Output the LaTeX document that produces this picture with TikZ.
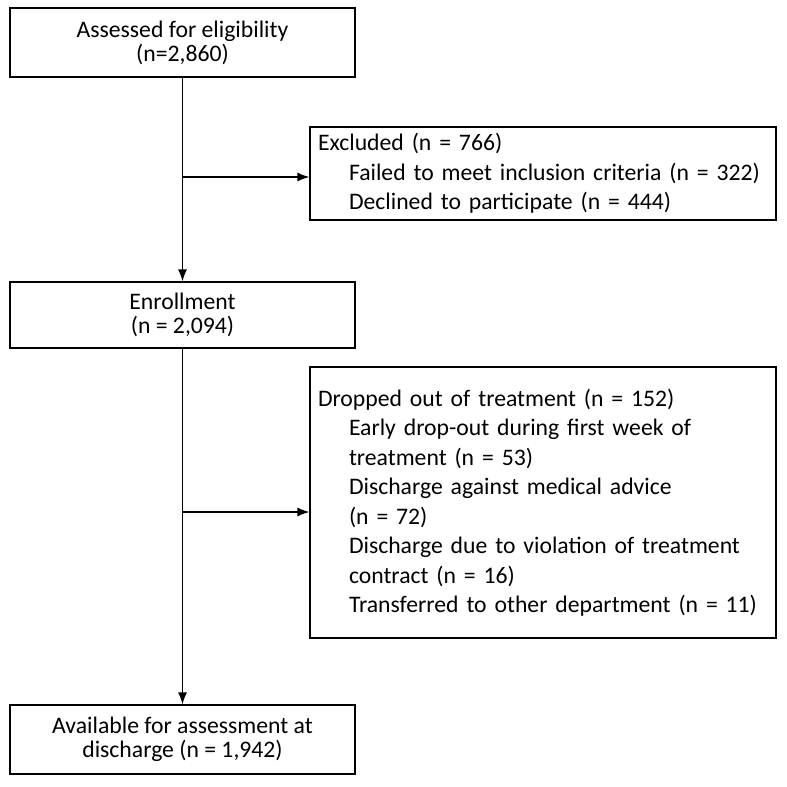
\documentclass[tikz,border=0pt]{standalone}
\usepackage{fontspec}
\setmainfont{Carlito}
\usetikzlibrary{arrows.meta,positioning}
\begin{document}
\begin{tikzpicture}[x=1pt,y=-1pt,
 stagebox/.style={draw,line width=1.2pt,minimum width=345pt,align=center,
  font=\fontsize{23.7}{24}\selectfont},
 sidebox/.style={draw,line width=1.2pt,minimum width=466pt,align=left,
  text width=450pt,font=\fontsize{23.7}{29.5}\selectfont},
 flow/.style={line width=1.2pt,-{Latex[length=12pt,width=9pt]}}]
\useasboundingbox (0,0) rectangle (787,787);
\node [stagebox,minimum height=69pt] (assessed) at (182.5,42.5) {Assessed for eligibility\\(n=2,860)};
\node [sidebox,minimum height=93pt] (excluded) at (543,173.5) {Excluded (n = 766)\\
 \hspace*{31pt}Failed to meet inclusion criteria (n = 322)\\
 \hspace*{31pt}Declined to participate (n = 444)};
\node [stagebox,minimum height=66pt] (enrol) at (182.5,315) {Enrollment\\(n = 2,094)};
\node [sidebox,minimum height=271pt] (dropped) at (543,502.5) {Dropped out of treatment (n = 152)\\
 \hspace*{31pt}Early drop-out during first week of\\
 \hspace*{31pt}treatment (n = 53)\\
 \hspace*{31pt}Discharge against medical advice\\
 \hspace*{31pt}(n = 72)\\
 \hspace*{31pt}Discharge due to violation of treatment\\
 \hspace*{31pt}contract (n = 16)\\
 \hspace*{31pt}Transferred to other department (n = 11)};
\node [stagebox,minimum height=69pt] (avail) at (182.5,739.5) {Available for assessment at\\discharge (n = 1,942)};
% connectors
\coordinate (j1) at (182.5,177);
\coordinate (j2) at (182.5,512);
\draw [flow] (assessed) -- (enrol);
\draw [flow] (enrol) -- (avail);
\draw [flow] (j1) -- (j1-|excluded.west);
\draw [flow] (j2) -- (j2-|dropped.west);
\end{tikzpicture}
\end{document}
